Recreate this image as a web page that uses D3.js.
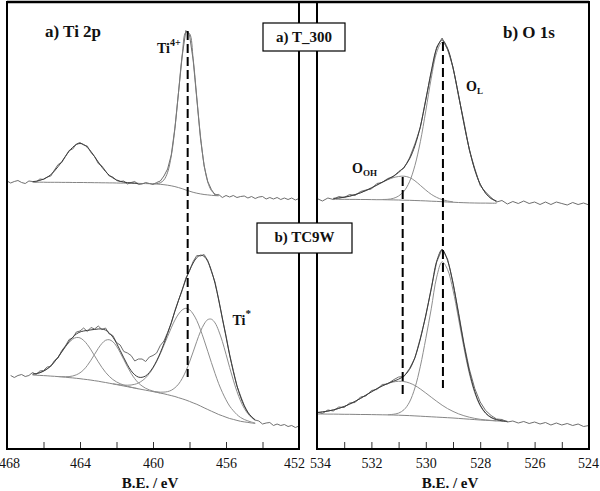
<!DOCTYPE html>
<html><head><meta charset="utf-8">
<script src="https://cdn.jsdelivr.net/npm/d3@7"></script>
<style>
body{margin:0;background:#fff}
svg{display:block}
text{font-family:"Liberation Serif","Times New Roman",serif;fill:#111}
</style></head><body>
<svg id="c" width="600" height="491"></svg>
<script>
// ---------- DATA (binding energy in eV, intensity in arbitrary units) ----------
const tiStep = 0.2;
const oStep = 0.2;

// Ti 2p, sample a) T_300
const tiTopDataStart = 468.0;
const tiTopData = [268,266,267.5,268.5,266.5,265.5,268,267.5,267,270,
  269.5,272,273,279,284.5,286.5,292.5,298.5,300,305,
  306.5,304,303,296.5,292.5,285.5,283,278,273,272,
  268.5,267.5,268,265,266.5,267.5,264.5,265,266.5,265.5,
  264.5,266.5,268,273,280,294,321,357,393,418.5,
  414,389,350,311,283,267.5,259.5,254,254.5,251.5,
  253.5,252,253.5,251.5,252.5,253,251,252.5,250.5,252,
  252.5,250,251.5,250,251.5,249.5,251,249.5,251,249,250.5];
const tiTopBgStart = 466.6;
const tiTopBg = [266.8,266.8,266.8,266.8,266.7,266.7,266.7,266.7,266.6,266.6,
  266.6,266.5,266.5,266.5,266.5,266.4,266.4,266.3,266.3,266.2,
  266.2,266.1,266.1,266.0,265.9,265.9,265.8,265.8,265.7,265.6,
  265.5,265.4,265.3,265.2,265.0,264.7,264.3,263.8,263.2,262.4,
  261.4,260.3,259.0,257.8,256.7,255.8,255.1,254.5,254.1,253.7,253.4,253.2];
const tiTopP1Start = 466.6;
const tiTopP1 = [267.4,267.8,268.6,269.9,271.7,274.4,278.0,282.4,287.3,292.6,
  297.7,301.7,304.5,305.5,304.5,301.6,297.5,292.3,287.0,281.9,
  277.5,273.8,271.1,269.1,267.7,266.9,266.4,266.1,265.8,265.6];
const tiTopP2Start = 460.0;
const tiTopP2 = [265.3,265.4,266.2,269.1,276.7,293.0,320.4,357.0,393.8,416.7,
  415.5,390.2,351.4,313.1,284.3,267.0,258.5,254.9,253.6];

// Ti 2p, sample b) TC9W
const tiBotDataStart = 467.8;
const tiBotData = [73.5,71.5,73.5,74.5,72.5,73.5,76.5,74.5,78,78.5,
  82,82.5,88.5,91,98.5,103,109.5,111,117,118,
  121,117.5,121.5,120,123,119.5,121,115,113.5,106.5,
  104,97.5,96,93.5,88,90,90,87.5,92,93.5,
  96,103.5,108,116.5,125.5,138.5,149,158.5,171,178,
  187.5,193.5,193,194.5,188.5,177.5,167,149.5,130,113.5,
  94.5,78.5,63,53,43.5,36,32.5,29,28,25,
  26,26.5,23.5,25,23.5,24.5,22.5,23.5,21.5,23];
const tiBotBgStart = 466.6;
const tiBotBg = [74.0,73.8,73.6,73.4,73.2,72.9,72.7,72.4,72.1,71.8,
  71.4,71.1,70.7,70.3,69.8,69.4,68.9,68.3,67.8,67.1,
  66.5,65.8,65.1,64.4,63.7,63.0,62.3,61.6,60.9,60.2,
  59.5,58.8,58.1,57.4,56.7,55.9,55.2,54.3,53.4,52.5,
  51.3,50.2,49.0,47.6,46.1,44.7,43.0,41.2,39.5,37.8,
  36.2,34.5,33.2,31.8,30.5,29.6,28.6,27.7,27.1,26.6,26.0,25.5];
const tiBotFitStart = 466.6;
const tiBotFit = [74.9,75.4,76.3,77.8,80.1,83.1,87.2,91.9,97.2,102.6,
  107.5,111.8,115.0,117.0,118.0,118.6,119.1,119.6,120.0,120.0,
  118.9,116.2,111.9,105.8,98.6,91.2,84.2,78.3,74.2,71.9,
  71.7,73.1,76.5,81.6,88.2,96.2,105.5,115.6,126.4,137.6,
  148.6,159.4,169.6,178.6,186.0,191.4,193.8,192.6,187.6,178.4,
  165.4,149.0,131.1,112.2,93.9,77.6,63.3,51.8,43.1,36.8,32.2,29.1];
const tiBotAStart = 466.6;   // Ti4+ 2p1/2
const tiBotA = [74.9,75.4,76.3,77.8,80.1,83.1,87.2,91.8,97.0,102.1,
  106.5,109.9,111.5,111.1,108.6,104.5,99.2,93.2,87.2,81.6,
  76.7,72.7,69.5,67.1,65.3,63.9,62.8,61.8,61.0,60.2];
const tiBotBStart = 465.2;   // Ti* 2p1/2
const tiBotB = [72.5,72.3,72.3,72.4,73.0,74.2,76.2,79.2,83.5,88.8,
  94.7,100.6,105.5,108.7,109.3,107.3,102.8,96.5,89.4,82.2,
  75.7,70.3,66.1,63.0,60.7,59.1,57.9,56.9,56.0];
const tiBotCStart = 462.2;   // Ti4+ 2p3/2
const tiBotC = [65.3,64.7,64.2,63.9,63.8,64.0,64.7,66.0,68.2,71.2,
  75.5,80.9,87.5,95.2,103.8,112.5,121.1,128.9,135.0,139.1,
  140.7,139.3,135.0,128.4,119.4,108.9,97.7,86.4,75.5,65.3,
  56.7,49.2,42.9,38.3,34.4,31.5,29.5,28.1,26.9,26.0];
const tiBotDStart = 460.0;   // Ti* 2p3/2
const tiBotD = [57.6,57.2,56.8,56.9,57.4,58.7,61.2,64.9,70.5,77.9,
  86.9,97.1,107.7,117.4,124.9,129.4,129.8,126.1,118.2,107.6,
  94.8,81.5,68.9,57.5,48.0,40.7,35.3,31.3,28.6];

// O 1s, sample a) T_300
const oTopDataStart = 534.0;
const oTopData = [250.5,248,251,249.5,252.5,251.5,254.5,253.5,257.5,259,
  260,265.5,266.5,270.5,272,277.5,281,291,305,321.5,
  350,376.5,402,411,399.5,382,353.5,327.5,299,280.5,
  263.5,257,251.5,247,248.5,245,247.5,245.5,248,245.5,
  247,244.5,247,244.5,247,245.5,244,246.5,244.5,246,244];
const oTopBgStart = 533.4;
const oTopBg = [249.8,249.7,249.7,249.6,249.6,249.5,249.5,249.4,249.3,249.3,
  249.2,249.1,249.0,248.8,248.7,248.5,248.3,248.1,247.8,247.6,
  247.3,247.0,246.8,246.5,246.3,246.1,246.0,245.9,245.9,245.8,245.8];
const oTopFitStart = 533.4;
const oTopFit = [250.6,251.0,251.8,252.8,254.4,256.2,258.5,261.1,263.9,266.9,
  269.7,272.8,276.5,281.8,290.0,303.2,322.6,348.9,377.7,400.6,
  408.9,400.7,381.2,354.5,325.8,299.9,279.3,264.8,255.8,250.5,247.9];
const oTopOHStart = 533.4;
const oTopOH = [250.6,251.0,251.8,252.8,254.4,256.2,258.5,261.1,263.9,266.7,
  269.2,271.3,272.5,272.8,271.5,268.2,263.6,258.9,254.7,251.6,
  249.4,248.0,247.2];
const oTopLStart = 531.6;
const oTopL = [249.5,249.7,250.6,253.0,257.8,267.2,283.5,307.3,338.1,370.8,
  396.6,406.8,399.7,380.8,354.4,325.8,299.9,279.3,264.8,255.8,250.5,247.9];

// O 1s, sample b) TC9W
const oBotDataStart = 534.0;
const oBotData = [37,35.5,39,38,42,41.5,46,46.5,52,53,
  58.5,59.5,64.5,65,69,72,72.5,80.5,91,111,
  133,161,187,200,190,166.5,137,106,80,60.5,
  47,38.5,33.5,30,29.5,27,28,26,27.5,25.5,
  27,25,26.5,24,26,24,25.5,23.5,25,22.5,23.5];
const oBotBgStart = 534.0;
const oBotBg = [35.0,35.0,34.9,34.9,34.8,34.7,34.7,34.6,34.5,34.5,
  34.4,34.3,34.2,34.1,34.0,33.8,33.6,33.4,33.1,32.8,
  32.5,32.2,31.9,31.6,31.3,31.0,30.6,30.2,29.8,29.4,
  29.0,28.7,28.4,28.1,27.8,27.5];
const oBotFitStart = 534.0;
const oBotFit = [36.4,37.1,37.9,39.1,40.6,42.5,44.9,47.6,50.6,53.9,
  57.1,60.3,63.1,65.6,67.7,69.8,73.1,79.5,91.5,110.0,
  134.0,159.8,187.7,199.4,188.6,165.6,135.5,104.6,77.7,57.5,
  43.9,36.0,31.6,29.4,28.2,27.6];
const oBotOHStart = 534.0;
const oBotOH = [36.4,37.1,37.9,39.1,40.6,42.5,44.9,47.6,50.6,53.9,
  57.1,60.3,63.1,65.4,67.0,67.7,67.4,66.0,63.5,60.0,
  56.0,51.8,47.7,43.8,40.4,37.6,35.2,33.3,31.8,30.6,
  29.7,29.1,28.6,28.2];
const oBotLStart = 531.4;
const oBotL = [34.3,34.7,35.9,39.3,46.9,61.1,82.8,110.5,140.2,171.9,
  187.2,179.5,159.0,130.9,101.5,75.7,56.3,43.2,35.6,31.4,29.3,28.2,27.6];

// reference lines (peak positions), from upper to lower spectrum
const tiDashEnergy = [458.1];
const tiDashTop = [418];
const tiDashBottom = [72];
const oDashEnergy = [530.85, 529.37];
const oDashTop = [272, 407];
const oDashBottom = [52, 61];

// axes
const tiTicks = [468,466,464,462,460,458,456,454,452];
const tiTickLabels = [468,464,460,456,452];
const oTicks = [534,533,532,531,530,529,528,527,526,525,524];
const oTickLabels = [534,532,530,528,526,524];
const axisTitle = "B.E. / eV";

// ---------- DRAWING ----------
const svg = d3.select("#c");
const xL = d3.scaleLinear().domain([468, 452]).range([7, 299]);
const xR = d3.scaleLinear().domain([534, 524]).range([317, 589]);
const y = d3.scaleLinear().domain([0, 447]).range([449, 2]);

const pts = (start, step, vals) => vals.map((v, i) => [start - i * step, v]);
const mk = (x, curve) => d3.line().x(d => x(d[0])).y(d => y(d[1])).curve(curve);

function draw(x, start, step, vals, color, width, smooth) {
  svg.append("path")
    .attr("d", mk(x, smooth ? d3.curveCatmullRom : d3.curveLinear)(pts(start, step, vals)))
    .attr("fill", "none").attr("stroke", color).attr("stroke-width", width)
    .attr("stroke-linejoin", "round");
}

// axes (ticks pointing inward)
function axis(x, ticks, labels, offsets) {
  const g = svg.append("g").attr("transform", `translate(0,${y(0)})`)
    .call(d3.axisBottom(x).tickValues(ticks).tickSize(-7).tickPadding(9)
      .tickFormat(d => labels.includes(d) ? String(d) : ""));
  g.select(".domain").remove();
  g.selectAll(".tick line").attr("stroke", "#333").attr("stroke-width", 1);
  g.selectAll(".tick text").attr("fill", "#111")
    .style("font-family", '"Liberation Serif","Times New Roman",serif')
    .style("font-size", "14px")
    .attr("dx", d => offsets[d] || 0);
}
axis(xL, tiTicks, tiTickLabels, {468: 2, 452: -5});
axis(xR, oTicks, oTickLabels, {534: 3, 524: -1});

const cBg = "#858585", cComp = "#8e8e8e", cFit = "#3c3c3c", cData = "#6e6e6e";

// Ti 2p panel
draw(xL, tiTopBgStart, tiStep, tiTopBg, cBg, 1, true);
draw(xL, tiTopDataStart, tiStep, tiTopData, cData, 1, false);
draw(xL, tiTopP1Start, tiStep, tiTopP1, cFit, 1, true);
draw(xL, tiTopP2Start, tiStep, tiTopP2, "#7a7a7a", 1, true);

draw(xL, tiBotBgStart, tiStep, tiBotBg, cBg, 1, true);
draw(xL, tiBotAStart, tiStep, tiBotA, cComp, 1, true);
draw(xL, tiBotBStart, tiStep, tiBotB, cComp, 1, true);
draw(xL, tiBotCStart, tiStep, tiBotC, cComp, 1, true);
draw(xL, tiBotDStart, tiStep, tiBotD, cComp, 1, true);
draw(xL, tiBotDataStart, tiStep, tiBotData, cData, 1, false);
draw(xL, tiBotFitStart, tiStep, tiBotFit, cFit, 1, true);

// O 1s panel
draw(xR, oTopBgStart, oStep, oTopBg, cBg, 1, true);
draw(xR, oTopOHStart, oStep, oTopOH, cComp, 1, true);
draw(xR, oTopLStart, oStep, oTopL, cComp, 1, true);
draw(xR, oTopDataStart, oStep, oTopData, cData, 1, false);
draw(xR, oTopFitStart, oStep, oTopFit, cFit, 1, true);

draw(xR, oBotBgStart, oStep, oBotBg, cBg, 1, true);
draw(xR, oBotOHStart, oStep, oBotOH, cComp, 1, true);
draw(xR, oBotLStart, oStep, oBotL, cComp, 1, true);
draw(xR, oBotDataStart, oStep, oBotData, cData, 1, false);
draw(xR, oBotFitStart, oStep, oBotFit, cFit, 1, true);

// dashed peak-position lines
function dashes(x, es, tops, bottoms) {
  es.forEach((e, i) => svg.append("line")
    .attr("x1", x(e)).attr("x2", x(e)).attr("y1", y(tops[i])).attr("y2", y(bottoms[i]))
    .attr("stroke", "#000").attr("stroke-width", 2).attr("stroke-dasharray", "9,4"));
}
dashes(xL, tiDashEnergy, tiDashTop, tiDashBottom);
dashes(xR, oDashEnergy, oDashTop, oDashBottom);

// panel frames
[xL, xR].forEach(x => {
  const [a, b] = x.range();
  svg.append("rect").attr("x", a).attr("y", y(447)).attr("width", b - a).attr("height", y(0) - y(447))
    .attr("fill", "none").attr("stroke", "#000").attr("stroke-width", 2);
});
svg.append("line").attr("x1", xL.range()[0]).attr("x2", xR.range()[1])
  .attr("y1", y(447)).attr("y2", y(447)).attr("stroke", "#000").attr("stroke-width", 2.5);

// sample boxes
function box(x0, y0, w, h, label, base) {
  svg.append("rect").attr("x", x0).attr("y", y0).attr("width", w).attr("height", h)
    .attr("fill", "#fff").attr("stroke", "#000").attr("stroke-width", 1.2);
  svg.append("text").attr("x", x0 + w / 2).attr("y", base).attr("text-anchor", "middle")
    .style("font-size", "15px").style("font-weight", "bold").text(label);
}
box(263, 23, 82, 28, "a) T_300", 42);
box(257, 223, 95, 30, "b) TC9W", 242);

// labels
function label(x0, base, main, size, script, sSize, sdy) {
  const t = svg.append("text").attr("x", x0).attr("y", base)
    .style("font-size", size + "px").style("font-weight", "bold");
  t.append("tspan").text(main);
  if (script) t.append("tspan").attr("dy", sdy).style("font-size", sSize + "px").text(script);
}
label(45, 37, "a)  Ti 2p", 17);
label(503, 38, "b) O 1s", 17);
label(157, 53, "Ti", 14, "4+", 10, -7);
label(232.5, 325, "Ti", 14, "*", 11, -8);
label(466, 91, "O", 14, "L", 9, 3);
label(352, 173, "O", 14, "OH", 9, 3);

[xL, xR].forEach(x => {
  const [a, b] = x.range();
  svg.append("text").attr("x", (a + b) / 2 - 3).attr("y", 488).attr("text-anchor", "middle")
    .style("font-size", "15px").style("font-weight", "bold").text(axisTitle);
});
</script>
</body></html>
